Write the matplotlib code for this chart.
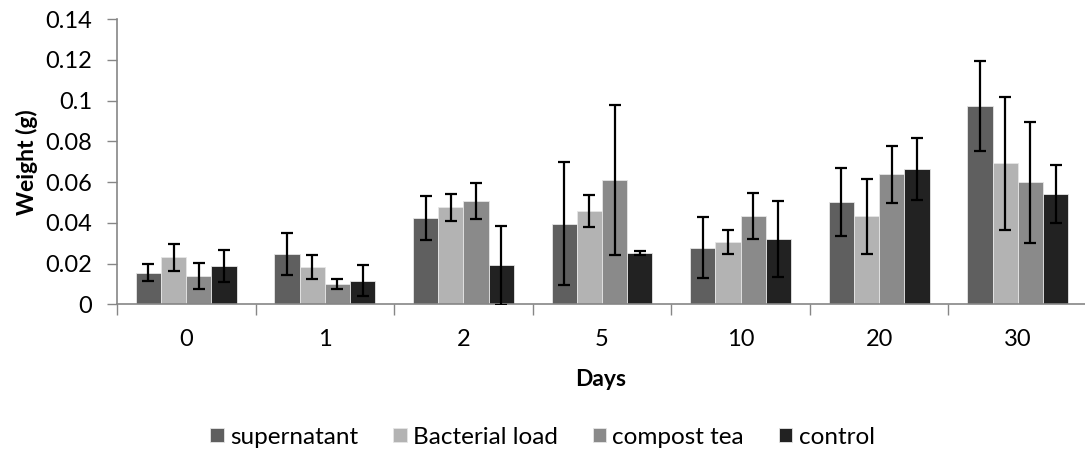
import matplotlib
matplotlib.use("Agg")
import matplotlib.pyplot as plt
import numpy as np

plt.rcParams['font.family'] = ['Lato', 'DejaVu Sans']

days = ["0", "1", "2", "5", "10", "20", "30"]
series = ["supernatant", "Bacterial load", "compost tea", "control"]

supernatant = [0.0156, 0.0246, 0.0424, 0.0396, 0.0278, 0.0502, 0.0973]
bacterial_load = [0.0231, 0.0184, 0.0476, 0.0457, 0.0305, 0.0432, 0.0692]
compost_tea = [0.0140, 0.0100, 0.0509, 0.0612, 0.0434, 0.0638, 0.0600]
control = [0.0187, 0.0117, 0.0192, 0.0251, 0.0320, 0.0664, 0.0542]

supernatant_err = [0.0041, 0.0103, 0.0106, 0.0302, 0.0150, 0.0167, 0.0221]
bacterial_load_err = [0.0068, 0.0061, 0.0065, 0.0079, 0.0059, 0.0182, 0.0325]
compost_tea_err = [0.0063, 0.0026, 0.0088, 0.0368, 0.0114, 0.0140, 0.0296]
control_err = [0.0078, 0.0077, 0.0193, 0.0009, 0.0187, 0.0152, 0.0140]

values = [supernatant, bacterial_load, compost_tea, control]
errors = [supernatant_err, bacterial_load_err, compost_tea_err, control_err]
colors = ["#5f5f5f", "#b3b3b3", "#8a8a8a", "#222222"]

fig = plt.figure(figsize=(10.85, 4.66), dpi=100)
ax = fig.add_axes([0.1078, 0.3466, 0.8922, 0.6124])

x = np.arange(len(days))
w = 1 / 5.5
for i, (vals, errs, c, name) in enumerate(zip(values, errors, colors, series)):
    pos = x + (i - 1.5) * w
    ax.bar(pos, vals, width=w, color=c, edgecolor="#e6e6e6", linewidth=0.6,
           label=name, zorder=2)
    ax.errorbar(pos, vals, yerr=errs, fmt="none", ecolor="black",
                elinewidth=1.6, capsize=4, capthick=1.6, zorder=3)

ax.set_xlim(-0.5, 6.485)
ax.set_ylim(0, 0.14)
ax.set_yticks(np.arange(0, 0.141, 0.02))
ax.set_yticklabels(["0", "0.02", "0.04", "0.06", "0.08", "0.1", "0.12", "0.14"])

ax.set_xticks(np.arange(-0.5, 6.5, 1.0))
ax.set_xticklabels([])
ax.set_xticks(x, minor=True)
ax.set_xticklabels(days, minor=True)
ax.tick_params(axis="x", which="minor", length=0, pad=18, labelsize=17)
ax.tick_params(axis="x", which="major", length=8, width=1, color="#868686",
               direction="out")
ax.tick_params(axis="y", length=7, width=1, color="#868686", direction="out",
               labelsize=17, pad=11)

for s in ["top", "right"]:
    ax.spines[s].set_visible(False)
for s in ["left", "bottom"]:
    ax.spines[s].set_color("#868686")
    ax.spines[s].set_linewidth(1.2)

ax.set_xlabel("Days", fontsize=16.5, fontweight="bold", labelpad=13)
ax.set_ylabel("Weight (g)", fontsize=16.5, fontweight="bold", labelpad=5)

fig.legend(loc="center", bbox_to_anchor=(0.5, 0.062), ncol=4, frameon=False,
           fontsize=17.5, handlelength=0.55, handleheight=0.55,
           handletextpad=0.25, columnspacing=1.45)

fig.savefig("out.png", dpi=100)
